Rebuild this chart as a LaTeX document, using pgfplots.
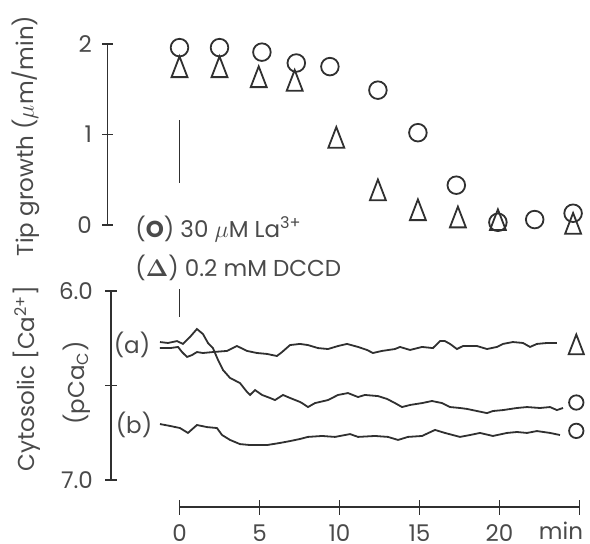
\documentclass[border=0pt]{standalone}
\usepackage{pgfplots}
\pgfplotsset{compat=1.18}
\usepackage[no-math]{fontspec}
\setmainfont{Poppins}
\definecolor{lc}{HTML}{303030}
\definecolor{tc}{HTML}{4A4A4A}

% traces (time in min, pCa)
\pgfplotstableread{
t p
-1.22 6.302
-0.59 6.302
-0.09 6.296
0.16 6.323
0.47 6.349
0.78 6.339
1.09 6.323
1.47 6.328
2.09 6.323
2.97 6.317
3.59 6.291
4.22 6.317
4.84 6.328
5.47 6.333
6.09 6.344
6.41 6.323
6.91 6.286
7.53 6.280
8.03 6.286
8.66 6.302
9.28 6.307
9.91 6.291
10.47 6.280
11.16 6.296
11.72 6.312
12.09 6.328
12.66 6.317
13.47 6.307
13.78 6.296
14.41 6.312
15.16 6.296
15.84 6.302
16.28 6.265
16.59 6.265
16.91 6.280
17.34 6.307
17.72 6.291
18.59 6.291
19.22 6.307
19.84 6.296
20.22 6.280
20.84 6.270
21.47 6.275
21.91 6.296
22.34 6.280
22.97 6.275
23.59 6.275
}\dccd
\pgfplotstableread{
t p
-1.22 6.270
-0.72 6.275
-0.16 6.265
0.22 6.280
0.66 6.243
1.09 6.201
1.47 6.228
1.78 6.275
2.09 6.302
2.41 6.365
2.72 6.418
3.16 6.460
3.78 6.487
4.22 6.534
4.41 6.550
4.72 6.524
5.16 6.550
5.66 6.566
5.97 6.577
6.47 6.550
6.91 6.566
7.53 6.587
7.66 6.593
8.03 6.614
8.47 6.593
9.28 6.577
9.91 6.550
10.53 6.540
11.16 6.561
11.59 6.550
12.41 6.556
12.97 6.571
13.47 6.593
13.91 6.614
14.41 6.603
15.16 6.593
15.78 6.582
16.41 6.593
16.91 6.614
17.53 6.619
17.97 6.624
18.59 6.635
19.22 6.646
19.59 6.635
20.22 6.630
21.09 6.619
21.72 6.614
22.53 6.619
23.16 6.614
23.59 6.630
23.97 6.619
}\lanth
\pgfplotstableread{
t p
-1.22 6.704
-0.59 6.714
0.03 6.725
0.53 6.751
1.09 6.709
1.72 6.720
2.34 6.725
2.66 6.762
3.16 6.788
3.78 6.810
4.41 6.815
5.47 6.815
6.28 6.804
6.91 6.794
7.53 6.783
8.03 6.772
8.91 6.767
9.72 6.772
10.66 6.757
11.16 6.772
12.22 6.767
13.03 6.772
13.66 6.788
14.28 6.772
15.16 6.767
15.97 6.735
16.59 6.751
17.53 6.772
18.16 6.762
18.78 6.751
19.59 6.767
20.47 6.751
21.09 6.746
21.72 6.751
22.34 6.741
23.16 6.751
23.78 6.762
}\ctrl

\pgfplotsset{
  myax/.style={
    scale only axis, clip=false,
    tick style={draw=lc, line width=0.8pt},
    tick align=inside,
    tick label style={color=tc},
    /pgf/number format/assume math mode=true,
  },
  nolinearrow/.style={axis line style={draw=lc, line width=0.8pt, -}},
}

\begin{document}
\fontsize{11.5}{14}\selectfont
\begin{tikzpicture}
\useasboundingbox (0,0) rectangle (295pt,271.5pt);

% tip growth
\begin{axis}[myax,
  at={(173.75pt,204.25pt)}, anchor=center,
  width=240pt, height=90.5pt,
  xmin=-4.5, xmax=25.5, ymin=0, ymax=2,
  axis x line=none, axis y line=left, nolinearrow,
  ytick={0,1,2}, yticklabels={0,1,2},
  yticklabel style={xshift=-1pt},
  major tick length=5.5pt,
]
\addplot[lc, line width=0.8pt] coordinates {(0,1.16) (0,0.46)};
\addplot[only marks, mark=o, mark size=4.4pt, lc, mark options={line width=0.9pt}]
  coordinates {(0,1.96) (2.5,1.96) (5.15,1.91) (7.3,1.79) (9.4,1.75) (12.4,1.49)
  (14.9,1.02) (17.3,0.44) (19.9,0.03) (22.2,0.06) (24.6,0.13)};
\addplot[only marks, mark=triangle, mark size=4.6pt, lc,
  mark options={line width=0.9pt, yscale=1.5}]
  coordinates {(0,1.71) (2.5,1.71) (4.95,1.60) (7.2,1.56) (9.8,0.93) (12.4,0.35)
  (14.9,0.13) (17.4,0.05) (19.9,0.02) (24.6,-0.02)};
\end{axis}

% cytosolic Ca
\begin{axis}[myax,
  at={(174.625pt,78.75pt)}, anchor=center,
  width=238.24pt, height=94.5pt,
  xmin=-4.28, xmax=25.5, ymin=6, ymax=7, y dir=reverse,
  axis x line=none, axis y line=left, nolinearrow,
  ytick={6,6.5,7}, yticklabels={6.0,,7.0},
  yticklabel style={xshift=-2pt},
  major tick length=6pt,
]
\addplot[lc, line width=0.8pt] coordinates {(0,5.99) (0,6.14)};
\addplot[lc, line width=0.9pt] table[x=t, y=p] {\dccd};
\addplot[lc, line width=0.9pt] table[x=t, y=p] {\lanth};
\addplot[lc, line width=0.9pt] table[x=t, y=p] {\ctrl};
\addplot[only marks, mark=triangle, mark size=4.4pt, lc,
  mark options={line width=0.9pt, yscale=1.5}] coordinates {(24.8,6.30)};
\addplot[only marks, mark=o, mark size=3.6pt, lc, mark options={line width=0.9pt}]
  coordinates {(24.8,6.59) (24.8,6.74)};
\end{axis}

% time axis
\begin{axis}[myax,
  at={(189.75pt,20.5pt)}, anchor=center,
  width=200pt, height=5pt,
  xmin=0, xmax=25, ymin=0, ymax=1,
  axis y line=none, axis x line=bottom, nolinearrow,
  xtick={0,5,10,15,20,25}, xticklabels={0,5,10,15,20,{}},
  xticklabel style={inner sep=0pt, yshift=-4.8pt},
  major tick length=7.5pt,
]
\end{axis}

\begin{scope}[every node/.style={color=tc, inner sep=0pt}]
\node[anchor=base] at (280.5pt,1.8pt) {min};
\node[rotate=90] at (13pt,203.5pt) {Tip growth ($\mu$m/min)};
\node[rotate=90] at (13.5pt,82.25pt) {Cytosolic [Ca\textsuperscript{2+}]};
\node[rotate=90] at (38.5pt,80pt) {(pCa\textsubscript{C})};
\node[anchor=west] at (67.5pt,157pt) {({\bfseries O}) 30 $\mu$M La\textsuperscript{3+}};
\node[anchor=west] at (67.5pt,137.5pt) {($\mathbf{\Delta}$) 0.2 mM DCCD};
\node at (66pt,99pt) {(a)};
\node at (67pt,59pt) {(b)};
\end{scope}
\end{tikzpicture}
\end{document}
